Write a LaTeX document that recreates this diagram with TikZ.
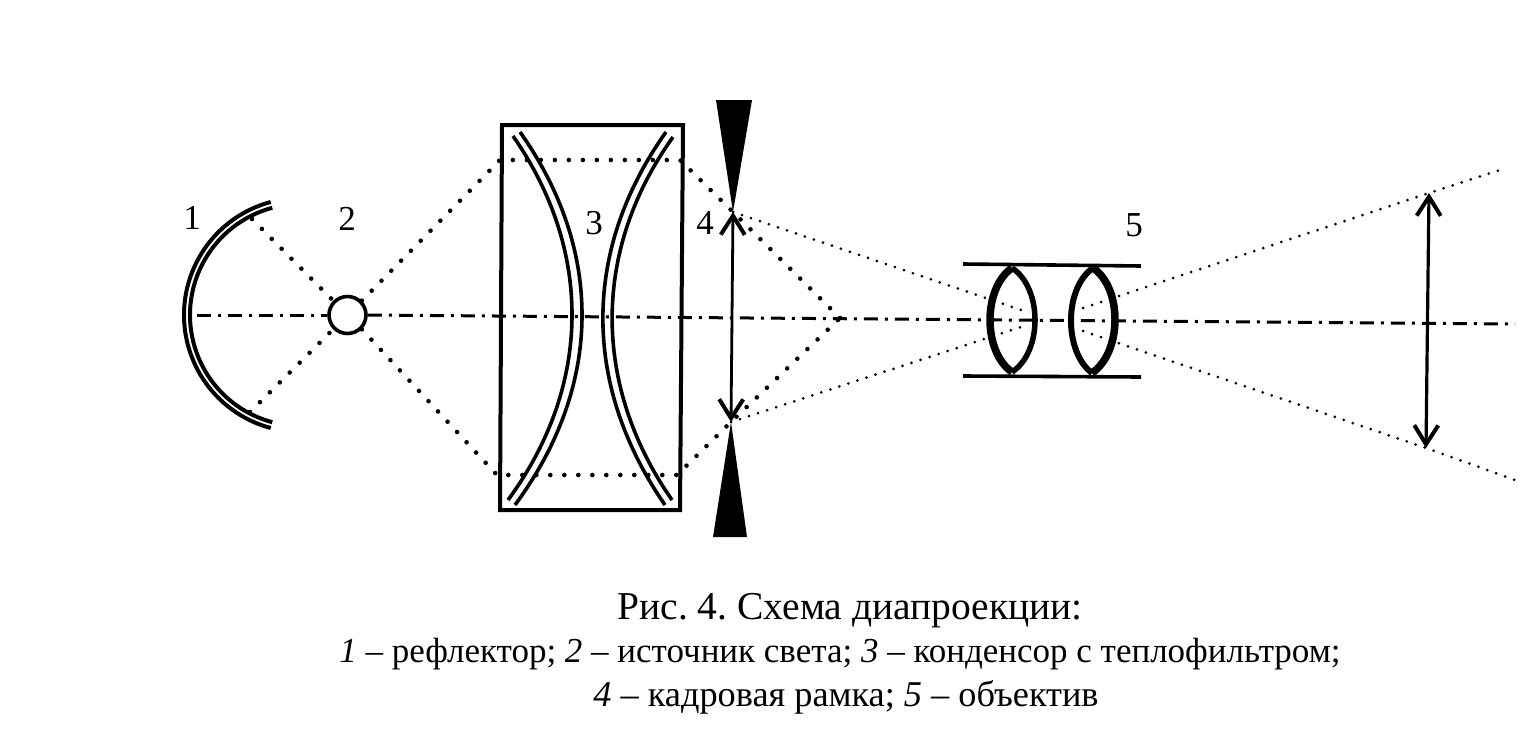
\documentclass[tikz,border=0pt]{standalone}
\usepackage{fontspec}
\setmainfont{Liberation Serif}
\usetikzlibrary{arrows.meta}
\tikzset{>={Straight Barb[length=19pt,width=24pt,line width=4pt]}}
\tikzset{
  rayline/.style = {line width=4.6pt, line cap=round, dash pattern=on 0pt off 14pt},
  thinray/.style = {line width=3pt, line cap=round, dash pattern=on 0pt off 9.5pt},
  axisline/.style = {line width=3pt, dash pattern=on 14pt off 7pt on 3pt off 7pt},
  lensline/.style = {line width=3.6pt},
  objline/.style = {line width=7.5pt, line join=round},
  numlabel/.style = {font=\fontsize{35}{38}\selectfont, inner sep=0pt},
  capmain/.style = {font=\fontsize{39.5}{44}\selectfont, inner sep=0pt},
  capline/.style = {font=\fontsize{35}{40}\selectfont, inner sep=0pt},
  capshort/.style = {font=\fontsize{36.3}{40}\selectfont, inner sep=0pt}
}

\begin{document}
\frenchspacing
\begin{tikzpicture}[x=1pt,y=-1pt]
  \useasboundingbox (0,0) rectangle (1535,731);
  \node (lamp) at (347.5,315) [circle, draw, line width=3.6pt, minimum size=37pt, inner sep=0pt] {};
  \coordinate (axisL) at (197,315);
  \coordinate (axisR) at (1515,324);
  \draw[axisline] (axisL) -- (lamp.west);
  \draw[axisline] (lamp.east) -- (axisR);

  \draw[line width=4pt] (105:117pt) ++(301,315) arc[start angle=105,end angle=255,radius=117pt];
  \draw[line width=4pt] (105:111pt) ++(301,315) arc[start angle=105,end angle=255,radius=111pt];

  \coordinate (reflT) at (252,219);
  \coordinate (reflB) at (250,412);
  \draw[rayline] (reflT) -- (lamp.north west);
  \draw[rayline] (reflB) -- (lamp.south west);

  \coordinate (boxA) at (502,125);
  \coordinate (boxB) at (683,125);
  \coordinate (boxC) at (680,510);
  \coordinate (boxD) at (500,510);
  \draw[line width=4pt] (boxA) -- (boxB) -- (boxC) -- (boxD) -- cycle;

  \draw[lensline] (520,132) .. controls (603.5,250) and (603.5,385) .. (515,505);
  \draw[lensline] (513,136) .. controls (592.5,250) and (592.5,385) .. (508,500);
  \draw[lensline] (666,132) .. controls (582,250) and (582,385) .. (665,505);
  \draw[lensline] (673,137) .. controls (592,250) and (592,385) .. (672,500);

  \coordinate (upL) at (500,160);
  \coordinate (upR) at (680,160);
  \coordinate (dnL) at (497,475);
  \coordinate (dnR) at (677,475);
  \coordinate (gateT) at (733,212);
  \coordinate (gateB) at (731,422);
  \coordinate (apex) at (840,318);
  \draw[rayline] (lamp.north east) -- (upL) -- (upR) -- (gateT) -- (apex);
  \draw[rayline] (lamp.south east) -- (dnL) -- (dnR) -- (gateB) -- (apex);

  \fill (716,100) -- (752,100) -- (gateT) -- cycle;
  \fill (713,537) -- (747,537) -- (gateB) -- cycle;
  \draw[<->,line width=2.8pt] (gateT) -- (gateB);

  \coordinate (imgT) at (1429,193);
  \coordinate (imgB) at (1426,448);
  \draw[<->,line width=3.2pt] (imgT) -- (imgB);

  \coordinate (farT) at (1500,170);
  \coordinate (farB) at (1515,480);
  \draw[thinray] (gateT) -- (1024,311);
  \draw[thinray] (gateB) -- (1024,326);
  \draw[thinray] (1083,308) -- (imgT) -- (farT);
  \draw[thinray] (1083,331) -- (imgB) -- (farB);

  \draw[line width=3.6pt] (963,264) -- (1141,266);
  \draw[line width=3.6pt] (963,376) -- (1141,377);
  \draw[objline] (1012,268) .. controls (982.7,288) and (982.7,352) .. (1012,372);
  \draw[line width=5.5pt] (1012,268) .. controls (1042.7,288) and (1042.7,352) .. (1012,372);
  \draw[line width=6pt] (1093,268) .. controls (1063.8,288) and (1063.8,352) .. (1092,373);
  \draw[objline] (1093,268) .. controls (1122.5,288) and (1122.5,352) .. (1092,373);

  \node[numlabel] (n1) at (192,218) {1};
  \node[numlabel] (n2) at (347,219) {2};
  \node[numlabel] (n3) at (594,223) {3};
  \node[numlabel] (n4) at (705,223) {4};
  \node[numlabel] (n5) at (1134,225) {5};

  \node[capmain] (cap1) at (850,611) {Рис. 4. Схема диапроекции:};
  \node[capline] (cap2) at (840,654) {\textit{1} – рефлектор; \textit{2} – источник света; \textit{3} – конденсор с теплофильтром;};
  \node[capshort] (cap3) at (846,697) {\textit{4} – кадровая рамка; \textit{5} – объектив};
\end{tikzpicture}
\end{document}
